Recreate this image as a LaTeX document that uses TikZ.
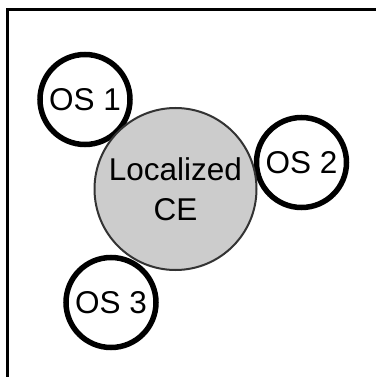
\documentclass[tikz,border=0pt]{standalone}
\usepackage{fontspec}
\setmainfont{Liberation Sans}
\begin{document}
\begin{tikzpicture}[x=1pt,y=-1pt,
  osring/.style={circle,draw=black,line width=5.5pt,fill=white,minimum size=90pt,inner sep=0pt,font=\fontsize{31.5}{31.5}\selectfont},
  cebig/.style={circle,draw=black!80,line width=2pt,fill=black!20,minimum size=162pt,inner sep=0pt,align=center,font=\fontsize{31.5}{40}\selectfont}]
\useasboundingbox (0,0) rectangle (376,377);
\draw[line width=3pt] (7.5,377) coordinate (fl) -- (7.5,9.5) coordinate (fc) -- (376,9.5) coordinate (fr);
\node[osring] (os1) at (85,99.5) {OS 1};
\node[osring] (os2) at (301.5,162.5) {OS 2};
\node[osring] (os3) at (111,302.5) {OS 3};
\node[cebig] (ce) at (175.5,189) {Localized\\CE};
\end{tikzpicture}
\end{document}
